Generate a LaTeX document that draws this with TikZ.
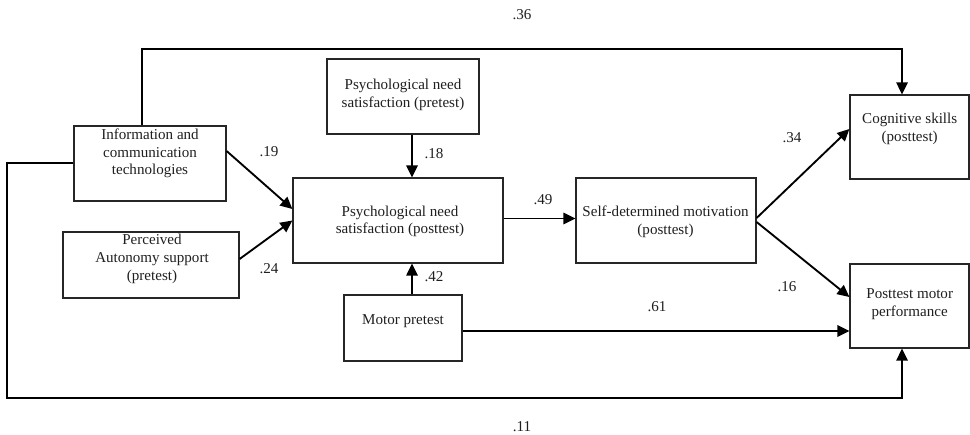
\documentclass[tikz,border=0pt]{standalone}
\usepackage{fontspec}
\setmainfont{Liberation Serif}
\usetikzlibrary{arrows.meta,calc}
\begin{document}
\begin{tikzpicture}[x=0.75pt,y=-0.75pt,
  box/.style={draw=black!85,line width=0.9pt,inner sep=0pt,minimum width=#1},
  txt/.style={align=center,inner sep=0pt,font=\fontsize{11.3}{13.3}\selectfont,text=black!88},
  coef/.style={inner sep=0pt,font=\fontsize{11.3}{13.3}\selectfont,text=black!88},
  arr/.style={draw=black,line width=1.4pt,-{Triangle[length=9pt,width=8.5pt]}}]
\useasboundingbox (0,0) rectangle (970,435);
% boxes
\node[box=152*0.75pt,minimum height=75*0.75pt] (pre) at (403,96.5) {};
\node[box=152*0.75pt,minimum height=75*0.75pt] (ict) at (150,163.5) {};
\node[box=210*0.75pt,minimum height=85*0.75pt] (post) at (398,220.5) {};
\node[box=176*0.75pt,minimum height=66*0.75pt] (perc) at (151,265) {};
\node[box=118*0.75pt,minimum height=66*0.75pt] (motor) at (403,328) {};
\node[box=180*0.75pt,minimum height=85*0.75pt] (sdm) at (666,220.5) {};
\node[box=119*0.75pt,minimum height=84*0.75pt] (cog) at (909.5,137) {};
\node[box=119*0.75pt,minimum height=84*0.75pt] (pmp) at (909.5,306) {};
% texts
\node[txt] (tpre) at (403,95) {Psychological need\\satisfaction (pretest)};
\node[txt] (tict) at (150,153.5) {Information and\\communication\\technologies};
\node[txt] (tpost) at (400,221.5) {Psychological need\\satisfaction (posttest)};
\node[txt] (tperc) at (152,259) {Perceived\\Autonomy support\\(pretest)};
\node[txt] (tmotor) at (403,321) {Motor pretest};
\node[txt] (tsdm) at (665.5,221.5) {Self-determined motivation\\(posttest)};
\node[txt] (tcog) at (909.7,129) {Cognitive skills\\(posttest)};
\node[txt] (tpmp) at (909.7,304.5) {Posttest motor\\performance};
% coefficients
\node[coef] (c36) at (522,15) {.36};
\node[coef] (c19) at (269,152) {.19};
\node[coef] (c18) at (434,154) {.18};
\node[coef] (c49) at (543,200) {.49};
\node[coef] (c34) at (792,138) {.34};
\node[coef] (c24) at (269,269) {.24};
\node[coef] (c42) at (434,277) {.42};
\node[coef] (c16) at (787,287) {.16};
\node[coef] (c61) at (657,307) {.61};
\node[coef] (c11) at (522,427) {.11};
% bend points
\coordinate (t1) at (142,49);
\coordinate (t2) at (902,49);
\coordinate (b1) at (7,163);
\coordinate (b2) at (7,398);
\coordinate (b3) at (902,398);
\coordinate (vx) at (412,0);
% connectors
\draw[arr] (ict.north -| t1) -- (t1) -- (t2) -- (cog.north -| t2);
\draw[arr] (ict.west |- b1) -- (b1) -- (b2) -- (b3) -- (pmp.south -| b3);
\draw[arr] ($(ict.east)+(0,-12.5)$) -- ($(post.west)+(0,-11.5)$);
\draw[arr] ($(perc.east)+(0,-6)$) -- (post.west);
\draw[arr] (pre.south -| vx) -- (post.north -| vx);
\draw[arr] (motor.north -| vx) -- (post.south -| vx);
\draw[arr] ($(post.east)+(0,-2)$) -- ($(sdm.west)+(0,-2)$);
\draw[arr] ($(sdm.east)+(0,-2.5)$) -- ($(cog.west)+(0,-8)$);
\draw[arr] ($(sdm.east)+(0,1.5)$) -- ($(pmp.west)+(0,-9)$);
\draw[arr] ($(motor.east)+(0,3)$) -- ($(pmp.west)+(0,25)$);
\end{tikzpicture}
\end{document}
